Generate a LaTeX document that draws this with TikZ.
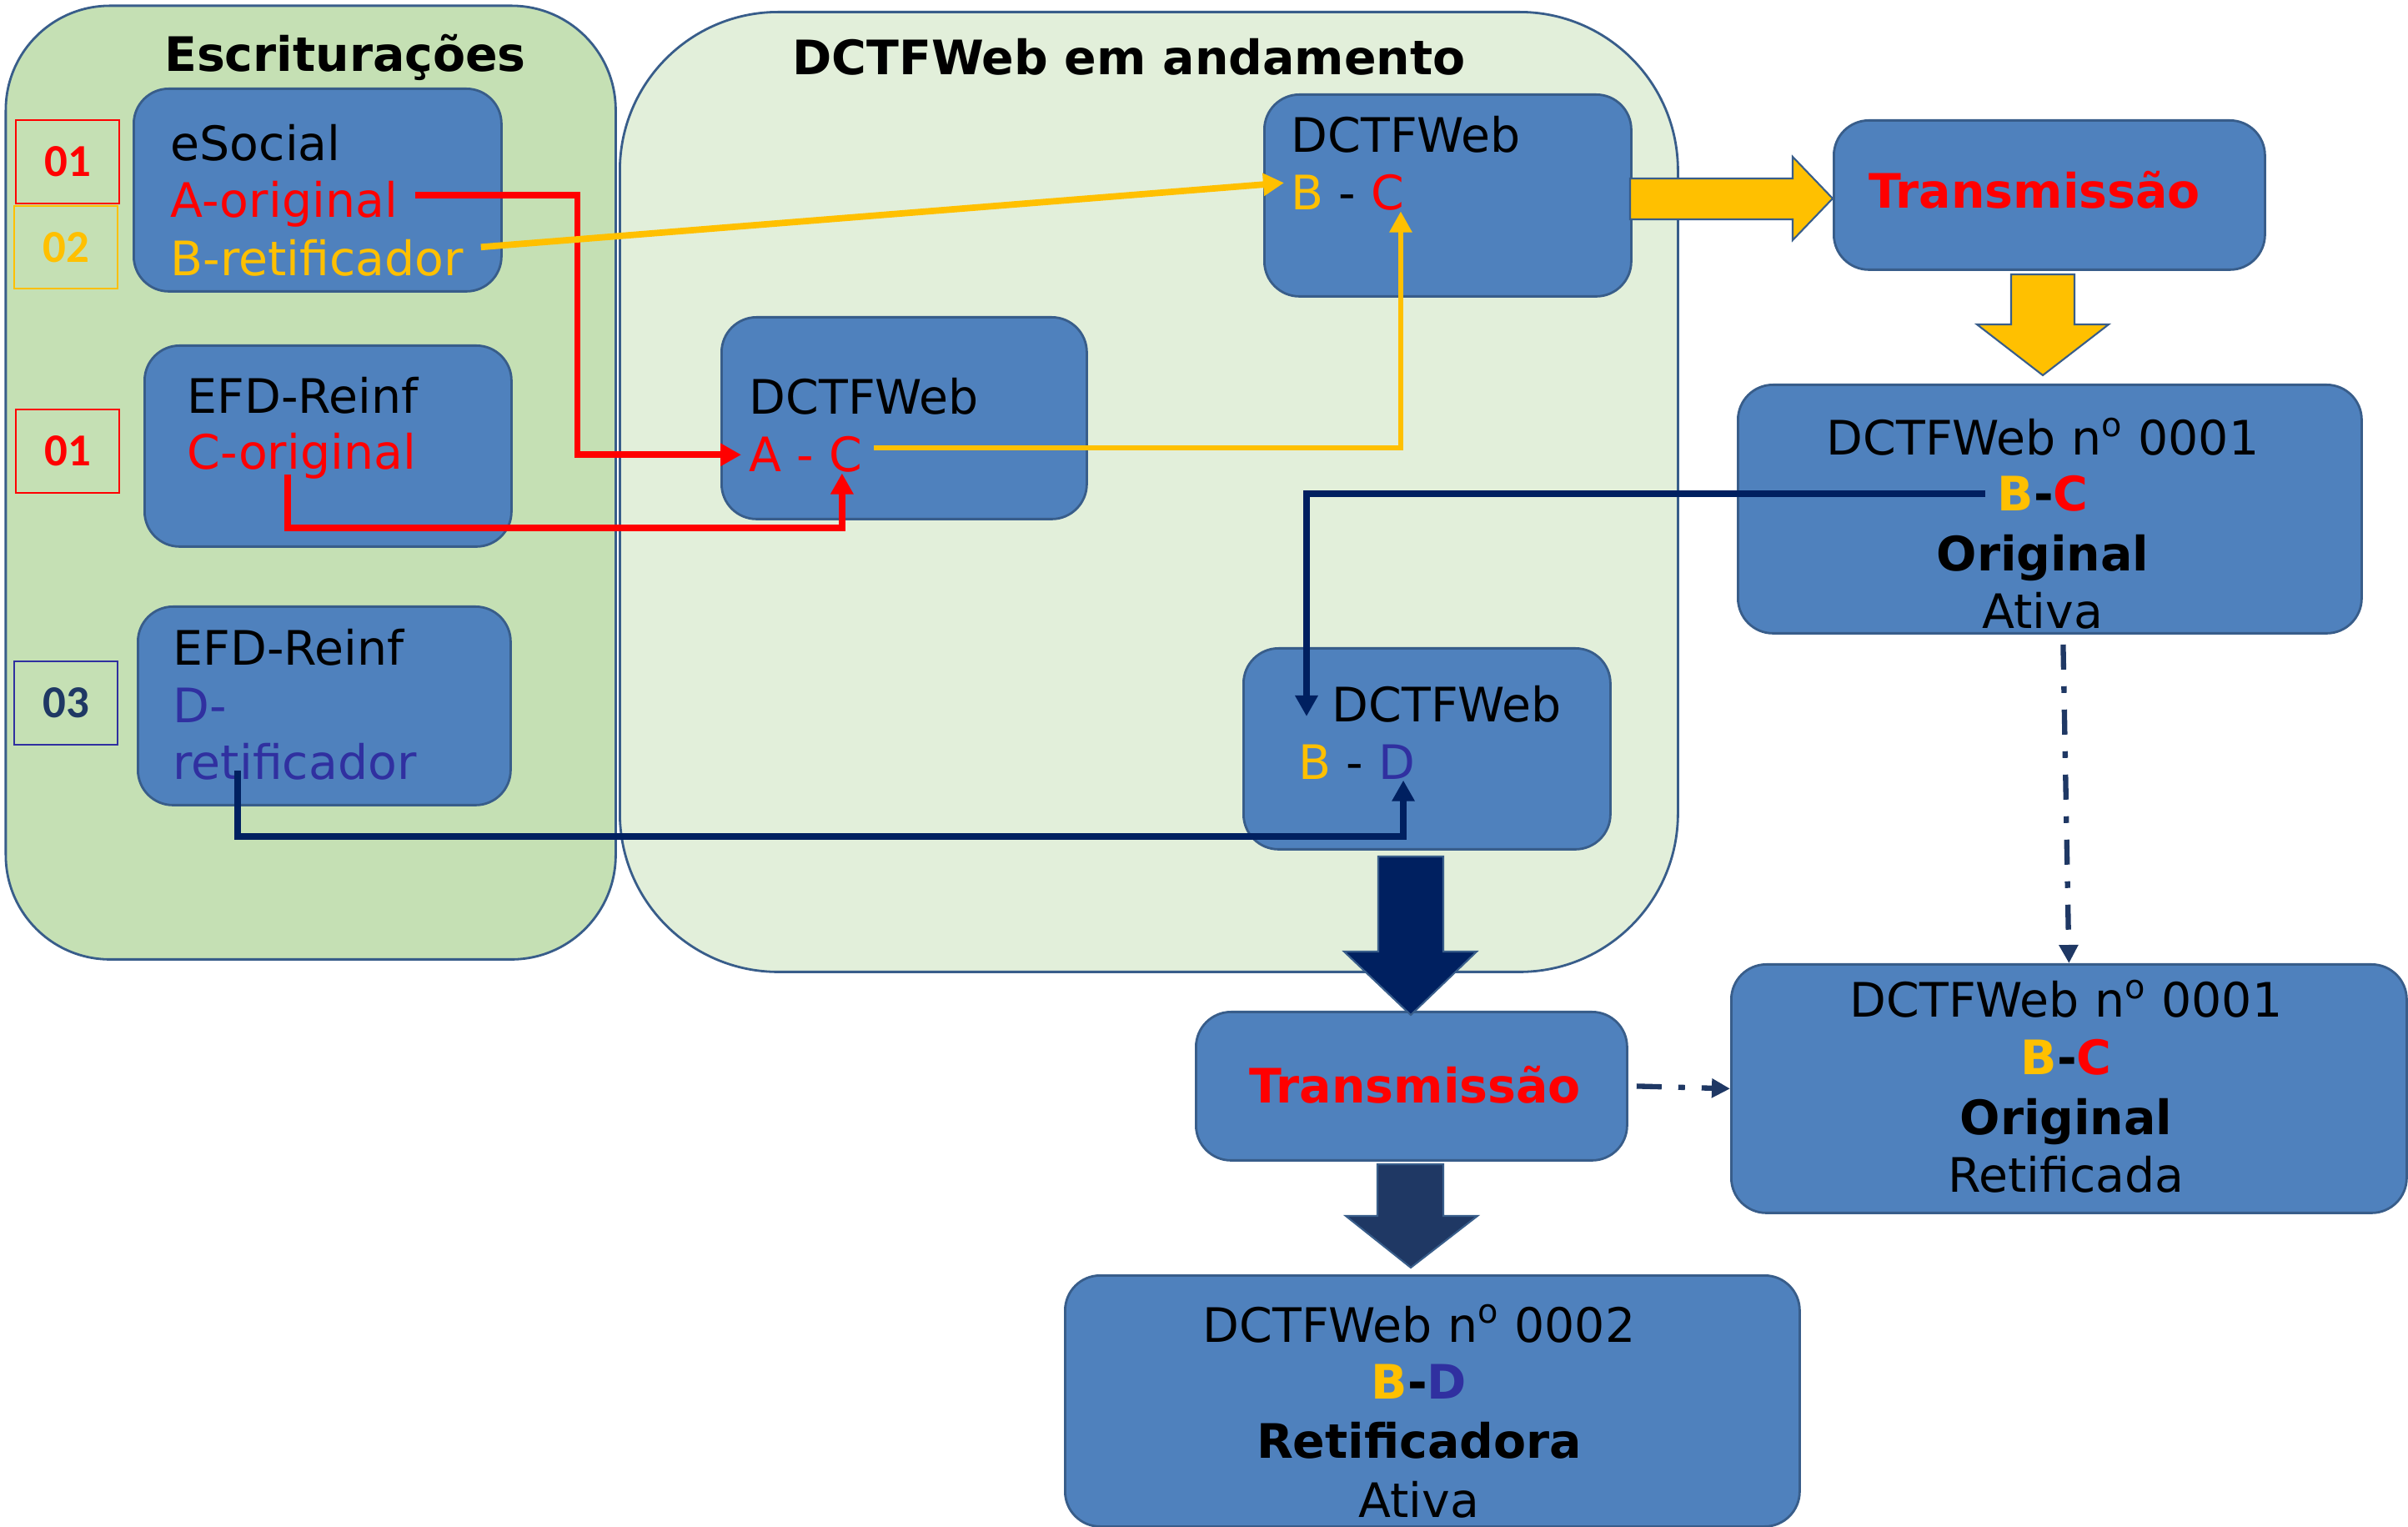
\documentclass[tikz,border=0pt]{standalone}
\usepackage{fontspec}
\setmainfont{DejaVu Sans}
\newfontfamily\numfont{Carlito}
\usetikzlibrary{arrows.meta}

\definecolor{azulcx}{HTML}{4F81BD}
\definecolor{bordacx}{HTML}{385D8A}
\definecolor{verdeesc}{HTML}{C5E0B4}
\definecolor{verdecl}{HTML}{E2EFDA}
\definecolor{amarelo}{HTML}{FFC000}
\definecolor{vermelho}{HTML}{FF0000}
\definecolor{marinho}{HTML}{002060}
\definecolor{azulesc}{HTML}{1F3864}
\definecolor{roxo}{HTML}{3030A0}

\newcommand\tam{\fontsize{16.2}{19.6}\selectfont}
\newcommand\nro{n\textsuperscript{o}}

\tikzset{
  caixa/.style={draw=bordacx, fill=azulcx, line width=0.8pt, rounded corners=0.42cm, anchor=north west, inner sep=0pt},
  grupo/.style={draw=bordacx, line width=0.8pt, anchor=north west, inner sep=0pt},
  linha/.style={anchor=base west, inner sep=0pt, font=\tam},
  centro/.style={anchor=base, inner sep=0pt, font=\tam},
  numero/.style={draw, line width=0.6pt, anchor=north west, inner sep=0pt, minimum width=1.24cm, minimum height=1cm, font=\numfont\bfseries\fontsize{15.6}{18}\selectfont},
  seta/.style={line width=2.2pt, -{Triangle[length=0.25cm,width=0.26cm]}},
  traco/.style={line width=1.8pt, azulesc, dash pattern=on 0.3cm off 0.2cm on 0.08cm off 0.2cm, -{Triangle[length=0.22cm,width=0.22cm]}},
  bloco/.style={draw=bordacx, line width=0.6pt}
}

\begin{document}
\begin{tikzpicture}
  \useasboundingbox (0,0) rectangle (28.88,-18.31);

  % grupos
  \node[grupo, fill=verdeesc, rounded corners=1.25cm, minimum width=7.315cm, minimum height=11.435cm] (escr) at (0.055,-0.055) {};
  \node[grupo, fill=verdecl, rounded corners=1.9cm, minimum width=12.69cm, minimum height=11.51cm] (andam) at (7.42,-0.13) {};
  \node[centro, font=\tam\bfseries] (tescr) at (4.14,-0.86) {Escriturações};
  \node[centro, font=\tam\bfseries] (tandam) at (13.54,-0.90) {DCTFWeb em andamento};

  % numeros
  \node[numero, draw=vermelho, text=vermelho] (n01a) at (0.18,-1.43) {01};
  \node[numero, draw=amarelo, text=amarelo, minimum height=0.99cm] (n02) at (0.16,-2.46) {02};
  \node[numero, draw=vermelho, text=vermelho] (n01b) at (0.18,-4.90) {01};
  \node[numero, draw=roxo, text=azulesc] (n03) at (0.16,-7.92) {03};

  % caixas
  \node[caixa, minimum width=4.41cm, minimum height=2.43cm] (esocial) at (1.59,-1.05) {};
  \node[caixa, minimum width=4.40cm, minimum height=2.41cm] (reinfC) at (1.72,-4.13) {};
  \node[caixa, minimum width=4.47cm, minimum height=2.38cm] (reinfD) at (1.64,-7.26) {};
  \node[caixa, minimum width=4.38cm, minimum height=2.42cm] (dctfAC) at (8.64,-3.79) {};
  \node[caixa, minimum width=4.40cm, minimum height=2.42cm] (dctfBC) at (15.15,-1.12) {};
  \node[caixa, minimum width=4.40cm, minimum height=2.41cm] (dctfBD) at (14.90,-7.76) {};
  \node[caixa, minimum width=5.17cm, minimum height=1.79cm] (trans1) at (21.98,-1.43) {};
  \node[caixa, minimum width=7.48cm, minimum height=2.98cm] (orig1) at (20.83,-4.60) {};
  \node[caixa, minimum width=5.17cm, minimum height=1.78cm] (trans2) at (14.33,-12.12) {};
  \node[caixa, minimum width=8.10cm, minimum height=2.98cm] (orig2) at (20.75,-11.55) {};
  \node[caixa, minimum width=8.81cm, minimum height=3.01cm] (retif) at (12.76,-15.28) {};

  % textos
  \node[linha] (tsoc) at (2.04,-1.93) {eSocial};
  \node[linha, text=vermelho] (aori) at (2.04,-2.61) {A-original};
  \node[linha, text=amarelo] (bret) at (2.04,-3.31) {B-retificador};
  \node[linha] (treinf1) at (2.24,-4.96) {EFD-Reinf};
  \node[linha, text=vermelho] (cori) at (2.24,-5.63) {C-original};
  \node[linha] (treinf2) at (2.07,-7.98) {EFD-Reinf};
  \node[linha, text=roxo] (dhif) at (2.07,-8.67) {D-};
  \node[linha, text=roxo] (dret) at (2.07,-9.35) {retificador};
  \node[linha] (tac) at (8.98,-4.97) {DCTFWeb};
  \node[linha, text=vermelho] (ac) at (8.98,-5.66) {A - C};
  \node[linha] (tbc) at (15.48,-1.83) {DCTFWeb};
  \node[linha] (bc) at (15.48,-2.52) {\textcolor{amarelo}{B} - \textcolor{vermelho}{C}};
  \node[linha] (tbd) at (15.97,-8.66) {DCTFWeb};
  \node[linha] (bd) at (15.57,-9.35) {\textcolor{amarelo}{B} - \textcolor{roxo}{D}};

  \node[centro, font=\tam\bfseries, text=vermelho] (ttr1) at (24.40,-2.50) {Transmissão};
  \node[centro] (o1a) at (24.50,-5.46) {DCTFWeb \nro{} 0001};
  \node[centro, font=\tam\bfseries] (o1b) at (24.50,-6.13) {\textcolor{amarelo}{B}-\textcolor{vermelho}{C}};
  \node[centro, font=\tam\bfseries] (o1c) at (24.50,-6.85) {Original};
  \node[centro] (o1d) at (24.50,-7.54) {Ativa};

  \node[centro, font=\tam\bfseries, text=vermelho] (ttr2) at (16.97,-13.23) {Transmissão};
  \node[centro] (o2a) at (24.78,-12.20) {DCTFWeb \nro{} 0001};
  \node[centro, font=\tam\bfseries] (o2b) at (24.78,-12.89) {\textcolor{amarelo}{B}-\textcolor{vermelho}{C}};
  \node[centro, font=\tam\bfseries] (o2c) at (24.78,-13.60) {Original};
  \node[centro] (o2d) at (24.78,-14.30) {Retificada};

  \node[centro] (r2a) at (17.02,-16.09) {DCTFWeb \nro{} 0002};
  \node[centro, font=\tam\bfseries] (r2b) at (17.02,-16.78) {\textcolor{amarelo}{B}-\textcolor{roxo}{D}};
  \node[centro, font=\tam\bfseries] (r2c) at (17.02,-17.48) {Retificadora};
  \node[centro] (r2d) at (17.02,-18.19) {Ativa};

  % ligacoes
  \draw[seta, vermelho] ([shift={(0.2,0.11)}]aori.east) -- ++(1.95,0) |- ([xshift=-0.09cm]ac.west);
  \draw[seta, vermelho] ([shift={(1.21,-0.06)}]cori.base west) -- ++(0,-0.64) -| ([xshift=-0.25cm]ac.south east);
  \draw[seta, amarelo] ([shift={(0.2,0.135)}]bret.east) -- ([shift={(-0.08,0.12)}]bc.west);
  \draw[seta, amarelo, line width=1.6pt] ([shift={(0.13,0.08)}]ac.east) -| ([xshift=-0.05cm]bc.south east);
  \draw[seta, marinho] ([xshift=-0.14cm]o1b.west) -| ([shift={(-0.3,0.07)}]tbd.base west);
  \draw[seta, marinho] ([shift={(0.78,0.11)}]dret.base west) -- ++(0,-0.79) -| ([xshift=-0.15cm]bd.south east);
  \draw[traco] ([shift={(0.16,-0.12)}]orig1.south) -- (orig2.north);
  \draw[traco] ([xshift=0.1cm]trans2.east) -- (orig2.west);

  % setas grandes
  \filldraw[bloco, fill=amarelo] (19.55,-2.14) -- (21.50,-2.14) -- (21.50,-1.88) -- (21.98,-2.38) -- (21.50,-2.88) -- (21.50,-2.63) -- (19.55,-2.63) -- cycle;
  \filldraw[bloco, fill=amarelo] (24.12,-3.29) -- (24.88,-3.29) -- (24.88,-3.89) -- (25.29,-3.89) -- (24.50,-4.50) -- (23.71,-3.89) -- (24.12,-3.89) -- cycle;
  \filldraw[bloco, fill=marinho] (16.53,-10.27) -- (17.31,-10.27) -- (17.31,-11.41) -- (17.71,-11.41) -- (16.92,-12.17) -- (16.12,-11.41) -- (16.53,-11.41) -- cycle;
  \filldraw[bloco, fill=azulesc] (16.52,-13.96) -- (17.31,-13.96) -- (17.31,-14.58) -- (17.72,-14.58) -- (16.92,-15.20) -- (16.14,-14.58) -- (16.52,-14.58) -- cycle;
\end{tikzpicture}
\end{document}
